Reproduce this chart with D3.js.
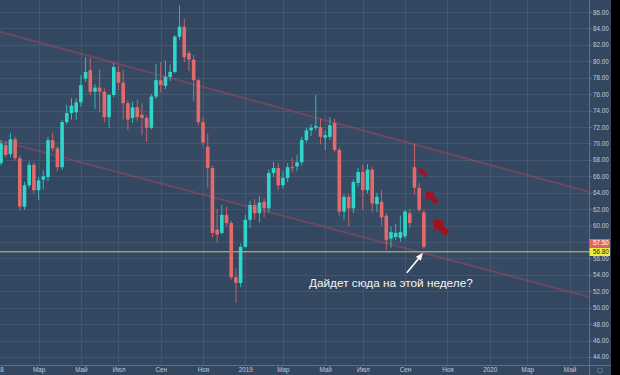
<!DOCTYPE html>
<html><head><meta charset="utf-8">
<script src="https://cdnjs.cloudflare.com/ajax/libs/d3/7.8.5/d3.min.js"></script>
<style>html,body{margin:0;padding:0;background:#000;overflow:hidden}</style>
</head><body><svg id="c" width="620" height="375"></svg>
<script>
// ---- data ----
const weeks = ["2018-01-08","2018-01-15","2018-01-22","2018-01-29","2018-02-05","2018-02-12","2018-02-19","2018-02-26","2018-03-05","2018-03-12","2018-03-19","2018-03-26","2018-04-02","2018-04-09","2018-04-16","2018-04-23","2018-04-30","2018-05-07","2018-05-14","2018-05-21","2018-05-28","2018-06-04","2018-06-11","2018-06-18","2018-06-25","2018-07-02","2018-07-09","2018-07-16","2018-07-23","2018-07-30","2018-08-06","2018-08-13","2018-08-20","2018-08-27","2018-09-03","2018-09-10","2018-09-17","2018-09-24","2018-10-01","2018-10-08","2018-10-15","2018-10-22","2018-10-29","2018-11-05","2018-11-12","2018-11-19","2018-11-26","2018-12-03","2018-12-10","2018-12-17","2018-12-24","2018-12-31","2019-01-07","2019-01-14","2019-01-21","2019-01-28","2019-02-04","2019-02-11","2019-02-18","2019-02-25","2019-03-04","2019-03-11","2019-03-18","2019-03-25","2019-04-01","2019-04-08","2019-04-15","2019-04-22","2019-04-29","2019-05-06","2019-05-13","2019-05-20","2019-05-27","2019-06-03","2019-06-10","2019-06-17","2019-06-24","2019-07-01","2019-07-08","2019-07-15","2019-07-22","2019-07-29","2019-08-05","2019-08-12","2019-08-19","2019-08-26","2019-09-02","2019-09-09","2019-09-16","2019-09-23","2019-09-30"];
const open  = [67.6,69.8,68.7,70.5,68.2,62.3,64.9,67.4,64.3,65.6,65.9,70.4,69.4,67.1,72.6,73.7,73.8,75.0,77.9,78.9,76.3,76.8,76.3,73.2,75.9,78.7,77.4,74.9,73.1,74.4,73.5,73.1,71.9,75.7,77.7,77.0,78.1,78.7,83.0,84.2,81.0,80.2,77.7,72.6,69.6,67.0,59.5,59.1,61.3,60.3,53.7,53.0,57.4,60.7,62.5,61.5,62.9,62.1,66.4,67.0,64.9,65.8,67.1,67.2,67.7,70.4,71.6,71.9,72.0,70.7,70.8,72.5,69.2,61.7,63.5,62.1,65.2,66.5,64.3,66.8,62.6,62.9,61.2,58.4,58.6,58.5,58.7,61.5,67.1,64.6,61.6];
const high  = [70.4,70.3,71.3,70.8,68.6,65.3,67.8,67.7,65.9,66.7,70.8,71.3,69.7,72.9,74.7,75.5,75.5,78.3,80.5,80.4,77.2,79.0,76.7,76.0,79.8,79.4,79.0,75.3,75.1,75.3,74.9,73.4,76.0,79.7,79.9,80.1,79.6,83.2,86.8,85.2,81.3,80.8,77.9,73.2,71.2,67.3,62.0,62.5,62.3,60.6,54.8,57.8,61.3,63.0,63.2,63.6,63.3,66.8,67.7,67.6,66.6,67.6,68.2,68.6,70.8,71.9,72.3,75.9,73.0,71.6,73.2,73.0,69.5,63.8,63.9,65.6,67.0,67.4,67.5,67.1,64.0,64.3,61.5,59.9,60.2,61.2,61.9,62.0,70.0,65.2,61.9];
const low   = [67.3,68.3,68.3,67.9,61.9,61.9,64.6,63.9,63.1,64.4,65.4,69.0,66.6,66.8,72.3,72.9,72.9,74.5,77.5,75.9,74.2,73.8,72.6,71.9,75.6,76.5,72.9,71.6,72.5,72.7,71.0,70.2,71.7,75.4,76.2,76.6,77.6,78.5,82.6,79.9,78.8,75.1,72.2,69.7,64.6,58.6,57.9,58.9,59.9,53.4,50.6,52.5,57.3,59.7,60.7,60.4,61.0,61.6,65.9,64.3,64.5,65.3,66.5,66.6,67.3,70.1,70.9,71.6,69.9,69.2,70.4,68.9,61.2,60.7,59.9,61.5,64.7,61.9,63.9,61.6,61.6,60.0,57.0,57.3,58.2,58.0,58.4,59.7,63.8,61.6,57.2];
const close = [70.0,68.6,70.5,68.2,62.3,64.9,67.4,64.3,65.5,66.0,70.4,69.4,67.1,72.6,73.7,74.6,75.0,77.1,78.7,76.3,76.8,76.3,73.2,75.9,79.3,77.4,74.9,72.9,74.4,73.2,73.1,71.9,75.7,77.7,77.1,78.1,78.7,83.0,84.2,80.5,80.2,77.7,72.6,70.1,67.0,59.1,58.9,61.3,60.3,53.7,53.0,57.4,60.7,62.5,61.5,62.8,62.1,66.4,67.0,64.9,65.8,67.1,67.0,67.7,70.4,71.6,71.9,72.1,70.8,71.0,72.2,69.2,61.7,63.5,62.1,65.3,66.5,64.3,66.8,62.7,63.5,61.0,58.2,59.2,59.1,59.2,61.7,60.3,64.6,61.9,57.4];

const yTicks = [44,46,48,50,52,54,56,58,60,62,64,66,68,70,72,74,76,78,80,82,84,86];
const xTickDates  = ["2018-01-01","2018-03-05","2018-05-07","2018-07-02","2018-09-03","2018-11-05","2019-01-07","2019-03-04","2019-05-06","2019-07-01","2019-09-02","2019-11-04","2020-01-06","2020-03-02","2020-05-04"];
const xTickLabels = ["2018","Мар","Май","Июл","Сен","Ноя","2019","Мар","Май","Июл","Сен","Ноя","2020","Мар","Май"];
const xDomain = ["2018-01-06T12:00:00","2020-06-02T00:00:00"];
const yDomain = [43.02, 87.46];
const channelUpper = [83.6, 64.1];
const channelLower = [70.3, 51.3];
const levelPrice = 56.80;
const lastPrice = 57.50;
const noteText = "Дайдет сюда на этой неделе?";
const flagWeeks = [88, 89, 90];

// ---- layout ----
const W = 620, H = 375, plotR = 589, plotB = 365, axisR = 611;
const C = {bg:"#344760", grid:"#42566f", axis:"#5d7087", text:"#c3cad4",
  up:"#2fd6cb", down:"#e4696a", chan:"rgba(185,72,96,0.42)", level:"#c3cf6e", flag:"#a80f1d"};
const parse = d3.isoParse;
const x = d3.scaleTime().domain(xDomain.map(parse)).range([0, plotR]);
const y = d3.scaleLinear().domain(yDomain).range([plotB, 0]);

const svg = d3.select("#c");
svg.append("rect").attr("width", W).attr("height", H).attr("fill", "#000");
svg.append("rect").attr("width", axisR).attr("height", H).attr("fill", C.bg);

const plot = svg.append("g");
// grid
plot.selectAll("line.hg").data(yTicks).join("line").attr("class","hg")
  .attr("x1",0).attr("x2",plotR).attr("y1",d=>Math.round(y(d))+0.5).attr("y2",d=>Math.round(y(d))+0.5)
  .attr("stroke",C.grid).attr("stroke-width",1);
plot.selectAll("line.vg").data(xTickDates).join("line").attr("class","vg")
  .attr("x1",d=>Math.round(x(parse(d)))+0.5).attr("x2",d=>Math.round(x(parse(d)))+0.5)
  .attr("y1",0).attr("y2",plotB).attr("stroke",C.grid).attr("stroke-width",1);

// channel
svg.append("defs").append("clipPath").attr("id","pc").append("rect")
  .attr("x",0).attr("y",0).attr("width",plotR).attr("height",plotB);
const chG = plot.append("g").attr("clip-path","url(#pc)");
const dom = xDomain.map(parse);
chG.append("path")
  .attr("d", d3.area().x(d=>x(d[0])).y0(d=>y(d[2])).y1(d=>y(d[1]))([[dom[0],channelUpper[0],channelLower[0]],[dom[1],channelUpper[1],channelLower[1]]]))
  .attr("fill","rgba(120,150,190,0.04)");
[channelUpper, channelLower].forEach(v=>{
  chG.append("path").attr("d", d3.line().x(d=>x(d[0])).y(d=>y(d[1]))([[dom[0],v[0]],[dom[1],v[1]]]))
    .attr("stroke",C.chan).attr("stroke-width",2).attr("fill","none");
});

// level line
plot.append("line").attr("x1",0).attr("x2",plotR).attr("y1",y(levelPrice)).attr("y2",y(levelPrice))
  .attr("stroke",C.level).attr("stroke-width",1);

// candles
const data = weeks.map((w,i)=>({d:parse(w),o:open[i],h:high[i],l:low[i],c:close[i]}));
const cg = plot.append("g").attr("clip-path","url(#pc)");
const bw = 3.6;
cg.selectAll("line.wk").data(data).join("line").attr("class","wk")
  .attr("x1",d=>x(d.d)).attr("x2",d=>x(d.d)).attr("y1",d=>y(d.h)).attr("y2",d=>y(d.l))
  .attr("stroke",d=>d.c>=d.o?C.up:C.down).attr("stroke-width",1).attr("opacity",0.8);
cg.selectAll("rect.bd").data(data).join("rect").attr("class","bd")
  .attr("x",d=>x(d.d)-bw/2).attr("width",bw)
  .attr("y",d=>y(Math.max(d.o,d.c))).attr("height",d=>Math.max(1,Math.abs(y(d.o)-y(d.c))))
  .attr("fill",d=>d.c>=d.o?C.up:C.down);

// red flag arrows next to last candles
const fg = plot.append("g");
flagWeeks.forEach((idx,k)=>{
  const d = data[idx];
  const s = 0.95 + k*0.35;
  const tx = x(d.d) + 4 + k*2.5, ty = y(d.o) + 1 + k*3;
  const p = `M0,0 L${7*s},${0.8*s} L${5.4*s},${2.8*s} L${10*s},${7*s} L${7.2*s},${9.6*s} L${2.9*s},${5.2*s} L${1*s},${7*s} Z`;
  fg.append("path").attr("d",p).attr("transform",`translate(${tx},${ty})`).attr("fill",C.flag);
});

// annotation
const ax0 = x(data[90].d), ay0 = y(levelPrice);
const ann = plot.append("g");
ann.append("line").attr("x1",ax0-17).attr("y1",ay0+21).attr("x2",ax0-3).attr("y2",ay0+4)
  .attr("stroke","#ffffff").attr("stroke-width",1.6);
ann.append("path").attr("d",`M${ax0-1},${ay0+1} L${ax0-8},${ay0+5} L${ax0-3},${ay0+9} Z`).attr("fill","#fff");
ann.append("text").attr("x",ax0-33).attr("y",ay0+35.5).attr("text-anchor","middle")
  .attr("font-family","Liberation Sans, Arial, sans-serif").attr("font-size",11.8).attr("fill","#f2f4f7")
  .text(noteText);

// axes lines
svg.append("line").attr("x1",0).attr("x2",axisR).attr("y1",plotB+0.5).attr("y2",plotB+0.5).attr("stroke",C.axis);
svg.append("line").attr("x1",plotR+0.5).attr("x2",plotR+0.5).attr("y1",0).attr("y2",H).attr("stroke",C.axis);

// y axis
const yAx = svg.append("g").attr("transform",`translate(${plotR},0)`)
  .call(d3.axisRight(y).tickValues(yTicks).tickSize(3).tickPadding(1).tickFormat(d3.format(".2f")));
yAx.select(".domain").remove();
yAx.selectAll("line").attr("stroke",C.axis);
yAx.selectAll("text").attr("fill",C.text).attr("font-size",6.3).attr("font-family","Liberation Sans, Arial, sans-serif");

// x axis
const xAx = svg.append("g").attr("transform",`translate(0,${plotB})`)
  .call(d3.axisBottom(x).tickValues(xTickDates.map(parse)).tickSize(0).tickPadding(3)
    .tickFormat((d,i)=>xTickLabels[i]));
xAx.select(".domain").remove();
xAx.selectAll("text").attr("fill",C.text).attr("font-size",6.3).attr("font-family","Liberation Sans, Arial, sans-serif");

// price labels
const yl = y(levelPrice);
const pl = [{v:levelPrice, cy:yl, fill:"#eeee3a", tc:"#1a1a1a"},{v:lastPrice, cy:yl-8.6, fill:"#e46464", tc:"#ffffff"}];
pl.forEach(p=>{
  svg.append("rect").attr("x",plotR+0.5).attr("y",p.cy-4.2).attr("width",axisR-plotR-1.5).attr("height",8.4).attr("fill",p.fill);
  svg.append("text").attr("x",plotR+4).attr("y",p.cy+2.2).attr("fill",p.tc).attr("font-size",6.3)
    .attr("font-family","Liberation Sans, Arial, sans-serif").text(d3.format(".2f")(p.v));
});

// corner icon
svg.append("circle").attr("cx",600).attr("cy",370.5).attr("r",2.6).attr("fill","none").attr("stroke","#6f8196").attr("stroke-width",0.8);
</script></body></html>
